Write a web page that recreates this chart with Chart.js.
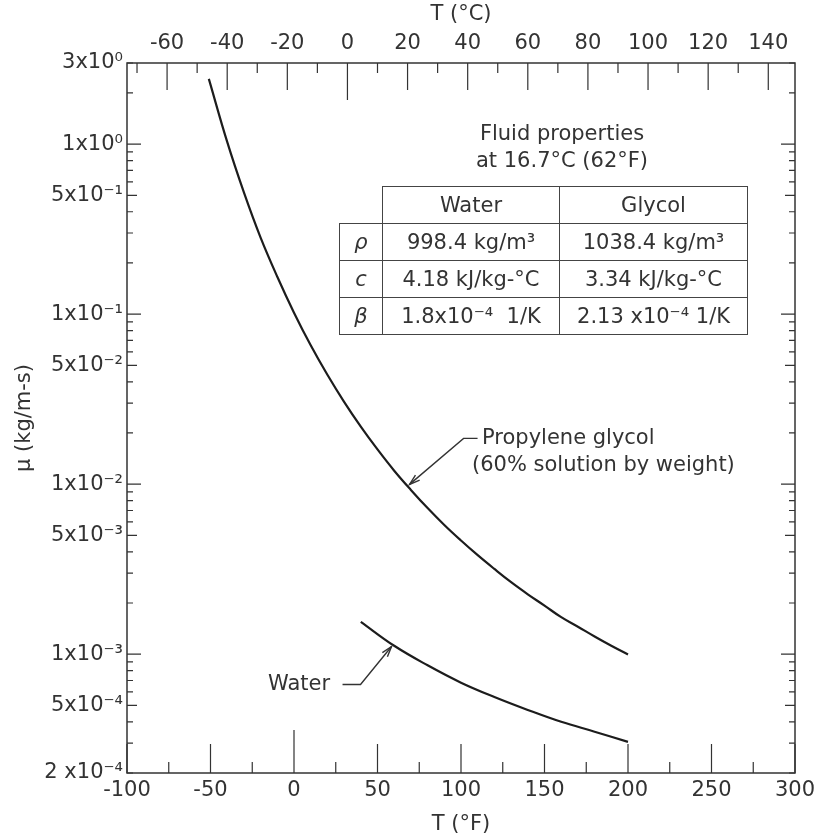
<!DOCTYPE html>
<html>
<head>
<meta charset="utf-8">
<script src="https://cdn.jsdelivr.net/npm/chart.js@4.4.1/dist/chart.umd.min.js"></script>
<style>
  html, body { margin: 0; padding: 0; background: #fff; }
  #wrap { position: relative; width: 826px; height: 839px; font-family: "DejaVu Sans", sans-serif; color: #333; }
  #chart { position: absolute; left: 0; top: 0; }
  .cap { position: absolute; width: 300px; text-align: center; font-size: 21px; line-height: 27px; }
  #props { position: absolute; left: 339px; top: 186px; border-collapse: collapse; font-size: 21px; }
  #props td, #props th { border: 1.5px solid #444; height: 36px; padding: 0 2px; text-align: center; font-weight: normal; white-space: nowrap; }
  #props td.blank { border-top: none; border-left: none; }
  #props .sym { width: 38px; font-style: italic; }
  #props .w { width: 172px; }
  #props .g { width: 183px; }
  .note { position: absolute; font-size: 21px; line-height: 26px; white-space: nowrap; }
</style>
</head>
<body>
<div id="wrap">
  <canvas id="chart" width="826" height="839"></canvas>
  <div class="cap" style="left:412px; top:120px;">Fluid properties<br>at 16.7°C (62°F)</div>
  <table id="props">
    <tr><td class="blank sym"></td><th class="w">Water</th><th class="g">Glycol</th></tr>
    <tr><td class="sym">ρ</td><td>998.4 kg/m³</td><td>1038.4 kg/m³</td></tr>
    <tr><td class="sym">c</td><td>4.18 kJ/kg-°C</td><td>3.34 kJ/kg-°C</td></tr>
    <tr><td class="sym">β</td><td>1.8x10⁻⁴&nbsp; 1/K</td><td>2.13 x10⁻⁴ 1/K</td></tr>
  </table>
  <div class="note" style="left:482px; top:424px;">Propylene glycol</div>
  <div class="note" style="left:472px; top:451px;">(60% solution by weight)</div>
  <div class="note" style="left:268px; top:670px;">Water</div>
</div>
<script>
// temperatures in °F, viscosity in kg/m-s
const glycolTemp = [-51, -40, -30, -20, -10, 0, 10, 20, 30, 40, 50, 60, 70, 80, 90, 100,
                    110, 120, 130, 140, 150, 160, 170, 180, 190, 200];
const glycolVisc = [2.42, 1.03, 0.52, 0.282, 0.166, 0.102, 0.0656, 0.044, 0.0305, 0.0218, 0.016, 0.012, 0.00925, 0.00723, 0.00575, 0.00466,
                    0.00382, 0.00317, 0.00265, 0.00225, 0.00193, 0.00165, 0.00145, 0.00127, 0.00112, 0.000995];

const waterTemp = [40, 60, 80, 100, 120, 140, 160, 180, 200];
const waterVisc = [0.00155, 0.00112, 0.00086, 0.00068, 0.00056, 0.00047, 0.0004, 0.00035, 0.000305];

const fTicks = [-100, -50, 0, 50, 100, 150, 200, 250, 300];
const cTicks = [-60, -40, -20, 0, 20, 40, 60, 80, 100, 120, 140];
const yTickValues = [3, 1, 0.5, 0.1, 0.05, 0.01, 0.005, 0.001, 0.0005, 0.0002];
const yTickLabels = ['3x10⁰', '1x10⁰', '5x10⁻¹', '1x10⁻¹', '5x10⁻²', '1x10⁻²', '5x10⁻³', '1x10⁻³', '5x10⁻⁴', '2 x10⁻⁴'];

const fMin = -100, fMax = 300;
const toC = f => (f - 32) / 1.8;

const font = { family: '"DejaVu Sans", sans-serif', size: 21 };
const ink = '#333';

// frame, inward ticks and the two leader arrows
const decorations = {
    id: 'decorations',
    afterDraw(chart) {
        const { ctx, chartArea: a, scales } = chart;
        ctx.save();
        ctx.strokeStyle = ink;
        ctx.lineWidth = 1.5;
        ctx.strokeRect(a.left, a.top, a.right - a.left, a.bottom - a.top);

        ctx.lineWidth = 1.2;
        ctx.beginPath();
        for (let f = fMin; f <= fMax; f += 25) {
            const x = scales.x.getPixelForValue(f);
            const len = f === 0 ? 43 : (f % 50 === 0 ? 29 : 11);
            ctx.moveTo(x, a.bottom); ctx.lineTo(x, a.bottom - len);
        }
        for (let c = -70; c <= 140; c += 10) {
            const x = scales.x2.getPixelForValue(c);
            const len = c === 0 ? 37 : (c % 20 === 0 ? 27 : 10);
            ctx.moveTo(x, a.top); ctx.lineTo(x, a.top + len);
        }
        for (let k = -4; k <= 0; k++) {
            for (let m = 1; m <= 9; m++) {
                const v = m * Math.pow(10, k);
                if (v < 0.0002 - 1e-12 || v > 3 + 1e-9) continue;
                const y = scales.y.getPixelForValue(v);
                const len = m === 1 ? 14 : (m === 5 ? 10 : 6);
                ctx.moveTo(a.left, y); ctx.lineTo(a.left + len, y);
                ctx.moveTo(a.right, y); ctx.lineTo(a.right - len, y);
            }
        }
        ctx.stroke();

        // leader lines
        const arrow = (pts) => {
            ctx.beginPath();
            ctx.moveTo(pts[0][0], pts[0][1]);
            for (let i = 1; i < pts.length; i++) ctx.lineTo(pts[i][0], pts[i][1]);
            ctx.stroke();
            const [tx, ty] = pts[pts.length - 1];
            const [px, py] = pts[pts.length - 2];
            const ang = Math.atan2(ty - py, tx - px);
            ctx.beginPath();
            ctx.moveTo(tx - 11 * Math.cos(ang - 0.3), ty - 11 * Math.sin(ang - 0.3));
            ctx.lineTo(tx, ty);
            ctx.lineTo(tx - 11 * Math.cos(ang + 0.3), ty - 11 * Math.sin(ang + 0.3));
            ctx.stroke();
        };
        ctx.lineWidth = 1.4;
        const gx = scales.x.getPixelForValue(68), gy = scales.y.getPixelForValue(0.0097);
        arrow([[gx + 70, gy - 48], [gx + 56, gy - 48], [gx + 2, gy - 2]]);
        const wx = scales.x.getPixelForValue(59), wy = scales.y.getPixelForValue(0.00114);
        arrow([[wx - 50, wy + 40], [wx - 32, wy + 40], [wx - 1, wy + 2]]);
        ctx.restore();
    }
};

new Chart(document.getElementById('chart'), {
    type: 'line',
    data: {
        datasets: [
            {
                label: 'Propylene glycol',
                data: glycolTemp.map((t, i) => ({ x: t, y: glycolVisc[i] })),
                borderColor: '#1c1c1c',
                borderWidth: 2.2,
                pointRadius: 0,
                tension: 0.4,
                xAxisID: 'x', yAxisID: 'y'
            },
            {
                label: 'Water',
                data: waterTemp.map((t, i) => ({ x: t, y: waterVisc[i] })),
                borderColor: '#1c1c1c',
                borderWidth: 2.2,
                pointRadius: 0,
                tension: 0.4,
                xAxisID: 'x', yAxisID: 'y'
            }
        ]
    },
    options: {
        responsive: false,
        animation: false,
        devicePixelRatio: 1,
        layout: { padding: 0 },
        plugins: { legend: { display: false }, tooltip: { enabled: false } },
        scales: {
            x: {
                type: 'linear', position: 'bottom', min: fMin, max: fMax,
                afterBuildTicks: s => { s.ticks = fTicks.map(v => ({ value: v })); },
                afterFit: s => { s.height = 66; },
                grid: { display: false, drawTicks: false },
                border: { display: false },
                ticks: { font, color: ink, padding: 5, maxRotation: 0, autoSkip: false, callback: v => String(v) },
                title: { display: true, text: 'T (°F)', font, color: ink, padding: { top: 0, bottom: 2 } }
            },
            x2: {
                type: 'linear', position: 'top', min: toC(fMin), max: toC(fMax),
                afterBuildTicks: s => { s.ticks = cTicks.map(v => ({ value: v })); },
                afterFit: s => { s.height = 63; },
                grid: { display: false, drawTicks: false },
                border: { display: false },
                ticks: { font, color: ink, padding: 7, maxRotation: 0, autoSkip: false, callback: v => String(v) },
                title: { display: true, text: 'T (°C)', font, color: ink, padding: { top: 2, bottom: 0 } }
            },
            y: {
                type: 'logarithmic', position: 'left', min: 0.0002, max: 3,
                afterBuildTicks: s => { s.ticks = yTickValues.map(v => ({ value: v })); },
                afterFit: s => { s.width = 127; },
                grid: { display: false, drawTicks: false },
                border: { display: false },
                ticks: {
                    font, color: ink, padding: 4, autoSkip: false,
                    callback: v => yTickLabels[yTickValues.findIndex(t => Math.abs(t - v) / t < 1e-6)]
                },
                title: { display: true, text: 'μ (kg/m-s)', font, color: ink, padding: { top: 12, bottom: 0 } }
            },
            y2: {
                type: 'logarithmic', position: 'right', min: 0.0002, max: 3,
                afterFit: s => { s.width = 31; },
                grid: { display: false, drawTicks: false },
                border: { display: false },
                ticks: { display: false }
            }
        }
    },
    plugins: [decorations]
});
</script>
</body>
</html>
